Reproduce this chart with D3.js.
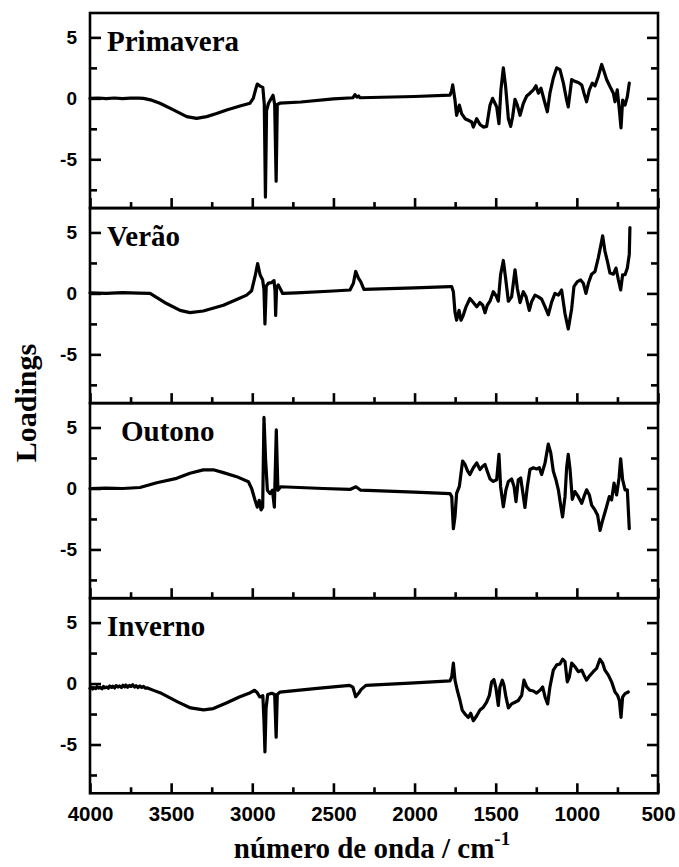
<!DOCTYPE html>
<html>
<head>
<meta charset="utf-8">
<script src="https://cdn.jsdelivr.net/npm/d3@7/dist/d3.min.js"></script>
<style>
  html, body { margin: 0; padding: 0; background: #fff; }
  svg { display: block; }
</style>
</head>
<body>
<svg id="chart" width="679" height="867"></svg>
<script>
// ---------- data (wavenumber cm-1, loading) ----------
const seasonNames = ["Primavera", "Verão", "Outono", "Inverno"];

const primavera = [
  [4000,0.0],[3950,0.03],[3900,-0.02],[3850,0.03],[3800,-0.03],[3750,0.02],[3700,0.02],[3671,0],[3620,-0.15],[3569,-0.4],[3486,-0.95],
  [3404,-1.5],[3343,-1.64],[3281,-1.5],[3220,-1.25],[3158,-0.95],[3076,-0.63],[3014,-0.4],[2994,0],
  [2980,0.7],[2969,1.17],[2952,1.0],[2935,0.9],[2926,-0.5],[2919,-8.1],[2912,-1.0],[2900,-0.4],
  [2887,-0.1],[2872,0.25],[2862,-0.5],[2853,-6.8],[2846,-0.5],[2830,-0.4],[2700,-0.3],[2500,-0.05],
  [2380,0.05],[2367,0.3],[2355,0.1],[2345,0.2],[2336,0.05],[2000,0.15],[1782,0.27],
  [1772,0.6],[1765,1.1],[1751,-0.14],[1741,-1.4],[1724,-0.55],[1710,-1.25],[1689,-1.67],[1669,-1.8],
  [1648,-1.94],[1638,-2.36],[1617,-1.67],[1597,-2.14],[1576,-2.36],[1556,-2.3],[1535,-0.55],[1519,0],
  [1504,-0.42],[1494,-0.7],[1480,-2.08],[1468,0.7],[1453,2.5],[1439,0.97],[1422,-1.67],[1408,-2.3],
  [1396,-1.53],[1381,-0.08],[1367,-0.55],[1350,-1.39],[1330,-0.42],[1309,0.19],[1289,0.42],[1268,0.7],
  [1252,1.03],[1237,0.42],[1221,0.83],[1196,-0.42],[1182,-1.1],[1166,0.42],[1145,1.67],[1124,2.5],
  [1104,2.36],[1083,1.25],[1063,-0.14],[1053,-0.7],[1032,1.53],[1012,1.39],[991,1.3],[970,1.1],
  [956,0.42],[940,-0.28],[923,0.7],[905,1.25],[888,1.03],[868,1.8],[847,2.78],[833,2.22],[816,1.53],
  [796,0.97],[775,0.42],[765,-0.28],[751,0.7],[738,-0.97],[728,-2.42],[718,-0.14],[703,-0.55],
  [689,0.14],[677,1.25]
];

const verao = [
  [4000,0.05],[3900,0.0],[3800,0.06],[3700,0.03],[3630,0],[3528,-0.83],[3445,-1.39],[3384,-1.58],
  [3302,-1.44],[3178,-0.97],[3096,-0.5],[3035,-0.14],[3004,0.22],[2983,1.39],[2967,2.44],[2952,1.53],
  [2936,1.1],[2928,0.3],[2922,-2.5],[2914,0.6],[2900,0.85],[2881,0.89],[2866,1.05],[2860,0.2],
  [2856,-1.8],[2850,0.5],[2840,0.7],[2829,0.42],[2813,0],[2727,0.05],[2500,0.2],[2398,0.28],
  [2377,0.83],[2363,1.8],[2346,1.25],[2332,0.97],[2312,0.33],[2000,0.45],[1782,0.55],
  [1771,0.55],[1761,0.14],[1751,-1.53],[1741,-2.2],[1726,-1.39],[1714,-2.2],[1700,-1.8],[1683,-1.1],
  [1659,-0.42],[1638,-0.75],[1617,-1.1],[1597,-0.75],[1580,-0.97],[1566,-1.58],[1552,-0.97],[1535,-0.64],
  [1515,0.14],[1498,-0.19],[1484,-0.64],[1470,1.53],[1453,2.7],[1439,1.25],[1422,-0.64],[1402,-0.28],
  [1381,1.94],[1367,0.42],[1350,-0.75],[1330,0.14],[1313,-0.28],[1293,-1.39],[1279,-0.69],[1258,-0.14],
  [1237,-0.28],[1217,-0.47],[1196,-1.1],[1176,-1.75],[1155,-0.69],[1135,0],[1114,-0.14],[1094,0.28],
  [1073,-1.67],[1053,-2.92],[1032,-1.25],[1018,0.55],[997,0.97],[977,1.1],[960,0.83],[944,0],
  [929,0.83],[909,1.58],[888,1.8],[868,2.92],[853,3.9],[841,4.72],[827,3.47],[812,2.64],[796,1.67],
  [775,1.58],[759,2.08],[744,1.1],[730,0.28],[718,1.53],[703,1.53],[689,2.08],[677,3.2],[673,5.4]
];

const outono = [
  [4000,0],[3900,0.03],[3800,0.0],[3692,0.08],[3589,0.47],[3466,0.83],[3384,1.25],[3302,1.53],[3240,1.53],
  [3178,1.3],[3096,0.97],[3024,0.55],[3004,0],[2983,-0.97],[2969,-1.53],[2957,-0.97],[2946,-1.75],
  [2936,-1.53],[2928,5.83],[2918,2.36],[2907,-0.14],[2891,-0.42],[2876,-0.14],[2864,-1.53],[2852,4.8],
  [2842,-0.14],[2825,0.14],[2562,0],[2398,-0.08],[2361,0.14],[2332,-0.14],[2000,-0.3],[1782,-0.42],
  [1771,-0.67],[1761,-3.3],[1751,-2.33],[1741,-0.4],[1724,0.17],[1704,2.25],[1689,1.97],[1673,1.42],
  [1659,1.14],[1638,1.7],[1617,2.1],[1597,1.56],[1580,1.83],[1566,1.97],[1552,1.42],[1535,0.78],
  [1515,0.58],[1494,0.72],[1480,2.8],[1470,0.17],[1453,-1.5],[1437,-0.11],[1422,0.58],[1402,0.78],
  [1387,0.17],[1375,-1.08],[1361,0.72],[1346,0.86],[1334,-0.25],[1320,-1.56],[1305,0.17],[1289,1.56],
  [1268,1.7],[1248,1.6],[1231,1.7],[1217,1.14],[1196,2.1],[1176,3.64],[1161,2.94],[1145,1.42],
  [1129,0.72],[1114,-0.11],[1100,-1.36],[1088,-2.33],[1073,-0.67],[1063,1.7],[1053,2.8],[1042,1.56],
  [1028,-0.89],[1012,-0.25],[991,-0.67],[970,-1.22],[956,-0.67],[940,-0.11],[923,-0.53],[909,-1.36],
  [888,-1.78],[872,-2.2],[857,-3.44],[841,-2.6],[820,-1.64],[800,-0.67],[786,-0.94],[771,0.44],
  [755,-0.53],[740,0.86],[730,2.44],[718,0.72],[703,-0.11],[689,-0.11],[677,-3.3]
];

const inverno = [
  [4000,-0.4],[3991,-0.3],[3983,-0.45],[3976,-0.33],[3964,-0.41],[3957,-0.26],[3945,-0.37],[3938,-0.3],
  [3926,-0.43],[3917,-0.24],[3908,-0.35],[3896,-0.29],[3887,-0.38],[3878,-0.2],[3866,-0.31],[3859,-0.22],
  [3848,-0.36],[3839,-0.17],[3827,-0.29],[3818,-0.2],[3806,-0.33],[3797,-0.14],[3786,-0.27],[3779,-0.12],
  [3768,-0.3],[3757,-0.16],[3746,-0.24],[3737,-0.1],[3725,-0.28],[3716,-0.17],[3704,-0.33],[3693,-0.2],
  [3681,-0.31],[3670,-0.24],[3658,-0.38],[3646,-0.36],[3600,-0.6],[3560,-0.8],[3460,-1.5],[3380,-2.0],
  [3300,-2.16],[3240,-2.05],[3160,-1.6],[3080,-1.1],[3020,-0.8],[2986,-0.55],[2970,-0.75],[2954,-1.1],
  [2935,-1.0],[2928,-3.0],[2922,-5.6],[2915,-2.0],[2905,-0.9],[2880,-0.8],[2862,-0.9],[2853,-4.4],
  [2846,-0.9],[2830,-0.7],[2600,-0.4],[2400,-0.15],[2380,-0.3],[2363,-1.08],[2345,-0.8],[2330,-0.5],
  [2300,-0.15],[2000,0.05],[1782,0.22],
  [1771,0.55],[1761,1.67],[1751,0.28],[1737,-0.55],[1720,-1.39],[1706,-2.2],[1689,-2.5],[1669,-2.78],
  [1654,-2.44],[1638,-3.05],[1617,-2.64],[1597,-2.17],[1576,-1.94],[1556,-1.53],[1539,-0.97],[1525,0.14],
  [1511,0.33],[1498,-0.42],[1484,-1.8],[1474,-0.28],[1459,0.28],[1449,-0.14],[1437,-1.1],[1422,-2.0],
  [1402,-1.67],[1381,-1.53],[1361,-1.39],[1340,-0.97],[1326,0.28],[1309,-0.28],[1289,-0.55],[1268,-0.61],
  [1248,-0.78],[1227,-0.55],[1211,-0.28],[1196,-1.1],[1180,-1.67],[1166,-0.28],[1145,1.1],[1124,1.53],
  [1104,1.6],[1088,2.0],[1073,1.8],[1059,0.14],[1046,0.55],[1032,1.67],[1012,1.39],[991,0.97],
  [970,1.1],[956,0.69],[940,0.28],[923,0.61],[899,0.97],[878,1.25],[858,2.0],[841,1.67],[827,1.1],
  [806,0.69],[786,0.14],[765,-0.69],[749,-0.97],[738,-1.39],[728,-2.78],[718,-1.1],[703,-0.83],[683,-0.69]
];

const seriesList = [primavera, verao, outono, inverno];

const xMajorTicks = [4000, 3500, 3000, 2500, 2000, 1500, 1000, 500];
const xMinorTicks = [3750, 3250, 2750, 2250, 1750, 1250, 750];
const yMajorTicks = [-5, 0, 5];
const yMinorTicks = [-7.5, -2.5, 2.5];
const xDomain = [4000, 500];
const yDomain = [-9, 7];

// ---------- layout ----------
const svg = d3.select("#chart");
const left = 90, right = 658, top0 = 13, panelH = 195.07;
const labelX = [107, 107, 121, 107];
const fmt = d => String(d);

const x = d3.scaleLinear().domain(xDomain).range([left, right]);

seriesList.forEach((data, i) => {
  const top = top0 + i * panelH;
  const y = d3.scaleLinear().domain(yDomain).range([top + panelH, top]);
  const g = svg.append("g");

  // bottom axis ticks (inward)
  const bottom = g.append("g").attr("transform", `translate(0,${top + panelH})`);
  bottom.call(d3.axisBottom(x).tickValues(xMajorTicks).tickSize(-10).tickFormat(""));
  bottom.append("g").call(d3.axisBottom(x).tickValues(xMinorTicks).tickSize(-6).tickFormat(""));
  if (i === 3) {
    bottom.append("g").attr("class", "xlab")
      .call(d3.axisBottom(x).tickValues(xMajorTicks).tickSize(0).tickPadding(13).tickFormat(fmt));
  }

  // left axis
  const la = g.append("g").attr("transform", `translate(${left},0)`);
  la.call(d3.axisLeft(y).tickValues(yMajorTicks).tickSize(-11).tickPadding(13).tickFormat(fmt));
  la.append("g").call(d3.axisLeft(y).tickValues(yMinorTicks).tickSize(-7).tickFormat(""));

  // right axis
  const ra = g.append("g").attr("transform", `translate(${right},0)`);
  ra.call(d3.axisRight(y).tickValues(yMajorTicks).tickSize(-11).tickFormat(""));
  ra.append("g").call(d3.axisRight(y).tickValues(yMinorTicks).tickSize(-7).tickFormat(""));

  g.selectAll(".domain").remove();

  // frame
  g.append("rect")
    .attr("x", left).attr("y", top)
    .attr("width", right - left).attr("height", panelH)
    .attr("fill", "none").attr("stroke", "#000").attr("stroke-width", 2.6);

  // series line
  const ln = d3.line().x(d => x(d[0])).y(d => y(d[1]));
  g.append("path")
    .datum(data)
    .attr("d", ln)
    .attr("fill", "none")
    .attr("stroke", "#000")
    .attr("stroke-width", 3.2)
    .attr("stroke-linejoin", "round")
    .attr("stroke-linecap", "round");

  // panel label
  g.append("text")
    .attr("x", labelX[i]).attr("y", top + 38)
    .attr("font-family", "Liberation Serif, Times New Roman, serif")
    .attr("font-weight", "bold").attr("font-size", 29)
    .text(seasonNames[i]);
});

// tick styling
svg.selectAll(".tick line").attr("stroke", "#000").attr("stroke-width", 2.6);
svg.selectAll(".tick text")
  .attr("fill", "#000")
  .attr("font-family", "Liberation Sans, Arial, sans-serif")
  .attr("font-weight", "bold")
  .attr("font-size", 19);
svg.selectAll(".xlab .tick text").attr("font-size", 20.5);

// axis titles
svg.append("text")
  .attr("transform", "translate(36,403) rotate(-90)")
  .attr("text-anchor", "middle")
  .attr("font-family", "Liberation Serif, Times New Roman, serif")
  .attr("font-weight", "bold").attr("font-size", 30)
  .text("Loadings");

const xt = svg.append("text")
  .attr("x", 372).attr("y", 858)
  .attr("text-anchor", "middle")
  .attr("font-family", "Liberation Serif, Times New Roman, serif")
  .attr("font-weight", "bold").attr("font-size", 29);
xt.append("tspan").text("número de onda / cm");
xt.append("tspan").attr("dy", -13).attr("font-size", 19).text("-1");
</script>
</body>
</html>
